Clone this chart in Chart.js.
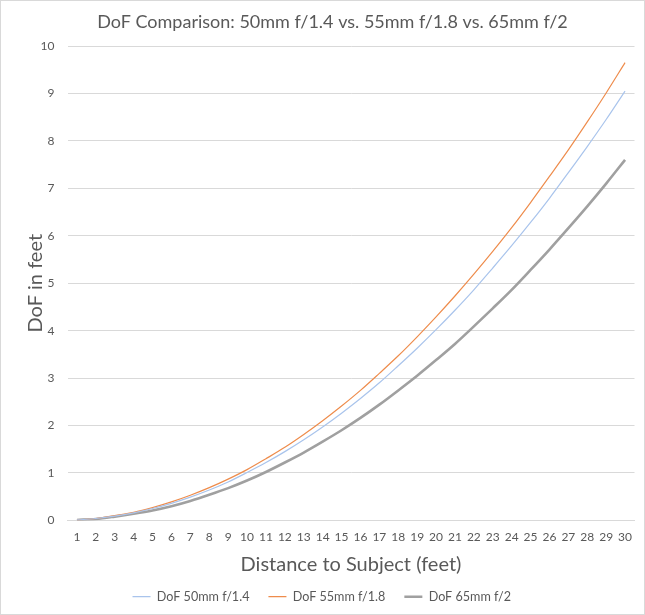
<!DOCTYPE html>
<html>
<head>
<meta charset="utf-8">
<script src="https://cdn.jsdelivr.net/npm/chart.js@4"></script>
<style>
    html, body { margin: 0; padding: 0; background: #fff; }
    .chart-wrapper {
        width: 643px; height: 613px;
        border: 1px solid #d9d9d9;
    }
</style>
</head>
<body>
<div class="chart-wrapper"><canvas id="chartCanvas" width="643" height="613"></canvas></div>
<script>
    // distanze (piedi)
    const distances = [1, 2, 3, 4, 5, 6, 7, 8, 9, 10, 11, 12, 13, 14, 15,
        16, 17, 18, 19, 20, 21, 22, 23, 24, 25, 26, 27, 28, 29, 30];

    // profondità di campo (piedi)
    const dof50 = [0.01, 0.04, 0.09, 0.16, 0.25, 0.36, 0.49, 0.64, 0.81, 1.01,
        1.22, 1.45, 1.70, 1.97, 2.26, 2.57, 2.90, 3.26, 3.63, 4.02,
        4.43, 4.86, 5.32, 5.79, 6.28, 6.79, 7.33, 7.88, 8.45, 9.05];
    const dof55 = [0.01, 0.04, 0.10, 0.17, 0.27, 0.39, 0.53, 0.69, 0.87, 1.07,
        1.30, 1.54, 1.81, 2.10, 2.41, 2.74, 3.10, 3.47, 3.87, 4.29,
        4.73, 5.19, 5.67, 6.17, 6.70, 7.25, 7.81, 8.40, 9.01, 9.65];
    const dof65 = [0.01, 0.03, 0.08, 0.14, 0.21, 0.30, 0.41, 0.54, 0.68, 0.84,
        1.02, 1.22, 1.43, 1.66, 1.90, 2.16, 2.44, 2.74, 3.05, 3.38,
        3.72, 4.09, 4.47, 4.86, 5.28, 5.71, 6.16, 6.62, 7.10, 7.60];

    const seriesNames = ['DoF 50mm f/1.4', 'DoF 55mm f/1.8', 'DoF 65mm f/2'];
    const yTicks = [0, 1, 2, 3, 4, 5, 6, 7, 8, 9, 10];
    const chartTitle = 'DoF Comparison: 50mm f/1.4 vs. 55mm f/1.8 vs. 65mm f/2';

    const font = "Lato, 'Open Sans', sans-serif";
    const textColor = '#595959';
    const gridColor = '#d9d9d9';

    // titolo disegnato a mano (leggermente spostato a destra come nell'originale)
    const titlePlugin = {
        id: 'titoloCustom',
        afterDraw(chart) {
            const c = chart.ctx;
            c.save();
            c.font = '18px ' + font;
            c.fillStyle = textColor;
            c.textAlign = 'center';
            c.textBaseline = 'middle';
            c.fillText(chartTitle, chart.width / 2 + 10, 21);
            c.restore();
        }
    };

    const ctx = document.getElementById('chartCanvas').getContext('2d');
    const chart = new Chart(ctx, {
        type: 'line',
        data: {
            labels: distances,
            datasets: [
                { label: seriesNames[0], data: dof50, borderColor: '#a9c4ec', backgroundColor: '#a9c4ec', borderWidth: 1.2 },
                { label: seriesNames[1], data: dof55, borderColor: '#ee8c4c', backgroundColor: '#ee8c4c', borderWidth: 1.2 },
                { label: seriesNames[2], data: dof65, borderColor: '#a0a0a0', backgroundColor: '#a0a0a0', borderWidth: 2.6 }
            ]
        },
        plugins: [titlePlugin],
        options: {
            responsive: false,
            animation: false,
            cubicInterpolationMode: 'monotone',
            elements: { point: { radius: 0 } },
            layout: { padding: { left: 8, right: 9.5, top: 45, bottom: 1 } },
            plugins: {
                title: { display: false },
                legend: {
                    position: 'bottom',
                    labels: {
                        color: textColor,
                        font: { family: font, size: 12.6 },
                        usePointStyle: true,
                        pointStyle: 'line',
                        boxWidth: 18,
                        pointStyleWidth: 18,
                        padding: 19
                    }
                },
                tooltip: { enabled: false }
            },
            scales: {
                x: {
                    offset: true,
                    grid: { display: false, drawTicks: false },
                    border: { color: gridColor },
                    ticks: { color: textColor, font: { family: font, size: 12 }, autoSkip: false, maxRotation: 0, padding: 10 },
                    title: { display: true, text: 'Distance to Subject (feet)', color: textColor, font: { family: font, size: 20 }, padding: { top: 6, bottom: -5 } },
                    afterFit: function(scale) {
                        scale.height = 51;
                    }
                },
                y: {
                    min: 0,
                    max: 10,
                    afterBuildTicks: function(axis) {
                        axis.ticks = yTicks.map(v => ({ value: v }));
                    },
                    grid: { color: gridColor, drawTicks: false },
                    border: { display: false },
                    ticks: { color: textColor, font: { family: font, size: 12 }, padding: 13 },
                    title: { display: true, text: 'DoF in feet', color: textColor, font: { family: font, size: 20 }, padding: { top: 15, bottom: 0 } },
                    afterFit: function(scale) {
                        scale.width = 58.5;
                    }
                }
            }
        }
    });
</script>
</body>
</html>
